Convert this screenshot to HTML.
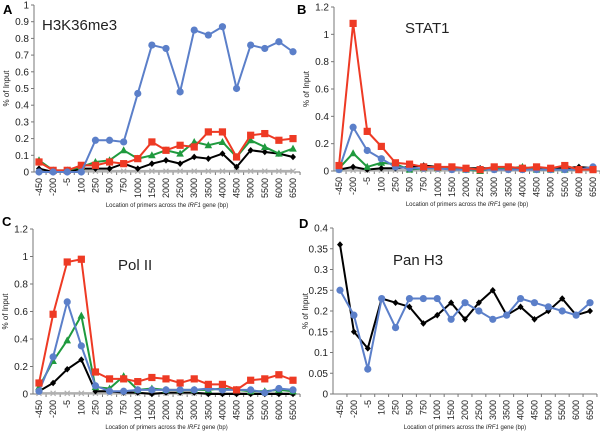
<!DOCTYPE html>
<html><head><meta charset="utf-8"><style>
html,body{margin:0;padding:0;background:#fff;}
svg{display:block;font-family:"Liberation Sans",Arial,sans-serif;}
</style></head><body>
<svg id="fig" width="600" height="434" viewBox="0 0 600 434"></svg>
<script>
const categories=["-450","-200","-5","100","250","500","750","1000","1500","2000","2500","3000","3500","4000","4500","5000","5500","6000","6500"];
const aBlue=[0,0,0,0,0.19,0.19,0.18,0.47,0.76,0.74,0.48,0.85,0.82,0.87,0.50,0.76,0.74,0.78,0.72];
const aRed=[0.06,0.01,0.01,0.04,0.04,0.06,0.05,0.08,0.18,0.13,0.16,0.15,0.24,0.24,0.09,0.22,0.23,0.19,0.20];
const aGreen=[0.07,0.01,0.01,0.03,0.06,0.07,0.13,0.08,0.10,0.13,0.11,0.18,0.16,0.18,0.09,0.19,0.15,0.11,0.14];
const aBlack=[0.02,0,0,0.02,0.02,0.02,0.05,0.02,0.05,0.07,0.05,0.09,0.08,0.11,0.03,0.13,0.12,0.11,0.09];
const aGray=[0.005,0.005,0.005,0.005,0.005,0.005,0.005,0.005,0.005,0.005,0.005,0.005,0.005,0.005,0.005,0.005,0.005,0.005,0.005];
const bRed=[0.04,1.08,0.29,0.18,0.06,0.05,0.03,0.03,0.03,0.02,0.01,0.03,0.03,0.02,0.03,0.02,0.04,0.01,0.01];
const bBlue=[0.01,0.32,0.15,0.09,0.03,0.02,0.02,0.02,0.01,0.01,0.01,0.01,0.01,0.01,0.01,0.01,0.01,0.01,0.03];
const bGreen=[0.02,0.13,0.03,0.06,0.05,0.01,0.02,0.02,0.02,0.01,0,0.02,0.02,0.03,0.01,0.01,0.01,0.01,0.02];
const bBlack=[0.01,0.03,0.01,0.02,0.02,0.03,0.04,0.03,0.02,0.02,0.02,0.02,0.02,0.02,0.02,0.02,0.02,0.03,0.02];
const bGray=[0.005,0.005,0.005,0.005,0.005,0.005,0.005,0.005,0.005,0.005,0.005,0.005,0.005,0.005,0.005,0.005,0.005,0.005,0.005];
const cRed=[0.08,0.58,0.96,0.98,0.16,0.11,0.11,0.09,0.12,0.11,0.08,0.11,0.07,0.07,0.03,0.10,0.11,0.14,0.10];
const cBlue=[0.02,0.27,0.67,0.35,0.06,0.02,0.02,0.03,0.03,0.03,0.03,0.03,0.04,0.03,0.03,0.03,0.01,0.04,0.03];
const cGreen=[0.05,0.24,0.39,0.57,0.05,0.04,0.13,0.03,0.04,0.03,0.03,0.03,0.03,0.04,0.03,0.02,0.02,0.03,0.02];
const cBlack=[0.02,0.08,0.18,0.25,0.02,0.02,0.01,0.01,0,0.01,0.01,0.01,0,0,0,0,0,0,0];
const cGray=[0.005,0.005,0.005,0.005,0.005,0.005,0.005,0.005,0.005,0.005,0.005,0.005,0.005,0.005,0.005,0.005,0.005,0.005,0.005];
const dBlack=[0.36,0.15,0.11,0.23,0.22,0.21,0.17,0.19,0.22,0.18,0.22,0.25,0.19,0.21,0.18,0.20,0.23,0.19,0.20];
const dBlue=[0.25,0.19,0.06,0.23,0.16,0.23,0.23,0.23,0.18,0.22,0.20,0.18,0.19,0.23,0.22,0.21,0.20,0.19,0.22];
const ticksA=["0","0.1","0.2","0.3","0.4","0.5","0.6","0.7","0.8","0.9","1"];
const ticksB=["0","0.2","0.4","0.6","0.8","1","1.2"];
const ticksD=["0","0.05","0.1","0.15","0.2","0.25","0.3","0.35","0.4"];

const NS="http://www.w3.org/2000/svg";
const svg=document.getElementById('fig');
function mk(tag,attrs,parent,text){const e=document.createElementNS(NS,tag);for(const k in attrs)e.setAttribute(k,attrs[k]);if(text!==undefined)e.textContent=text;(parent||svg).appendChild(e);return e;}
const COL={blue:"#5b7fc9",red:"#ee3a24",green:"#1f9a3e",black:"#000",gray:"#b0b0b0"};

function marker(g,kind,x,y){
  const c=COL[kind];let m;
  if(kind==="blue")m=mk('circle',{cx:x,cy:y,r:3.6,fill:c},g);
  else if(kind==="red")m=mk('rect',{x:x-3.6,y:y-3.6,width:7.2,height:7.2,fill:c},g);
  else if(kind==="green")m=mk('polygon',{points:`${x},${y-4} ${x-3.8},${y+3} ${x+3.8},${y+3}`,fill:c},g);
  else if(kind==="black")m=mk('polygon',{points:`${x},${y-3.3} ${x+3},${y} ${x},${y+3.3} ${x-3},${y}`,fill:c},g);
  else {m=mk('path',{d:`M${x-2.5},${y-2.5}L${x+2.5},${y+2.5}M${x-2.5},${y+2.5}L${x+2.5},${y-2.5}`,stroke:c,'stroke-width':1.2},g);}
  
  
}

function panel(p){
  const g=mk('g',{});
  
  
  const ax=p.ax,y0=p.y0,yTop=p.yTop,ymax=p.ymax;
  const yS=v=>y0-(v/ymax)*(y0-yTop);
  const step=(p.xLast-p.xFirst)/(categories.length-1);
  const xS=i=>p.xFirst+i*step;
  const right=p.xLast+step/2;
  const yl=mk('line',{x1:ax,y1:yTop,x2:ax,y2:y0,stroke:'#777','stroke-width':1},g);
  
  const xl=mk('line',{x1:ax,y1:y0,x2:right,y2:y0,stroke:'#777','stroke-width':1},g);
  
  p.ticks.forEach((t,i)=>{
    const v=parseFloat(t),y=yS(v);
    mk('line',{x1:ax-3,y1:y,x2:ax,y2:y,stroke:'#777'},g);
    const tx=mk('text',{x:ax-5,y:y+3.5,'font-size':10,'text-anchor':'end',fill:'#222'},g,t);
    
  });
  categories.forEach((c,i)=>{
    const x=xS(i);
    mk('line',{x1:x+step/2,y1:y0,x2:x+step/2,y2:y0+3,stroke:'#777'},g);
    const tx=mk('text',{x:x+3,y:y0+6,'font-size':9,'text-anchor':'end',fill:'#222',transform:`rotate(-90 ${x+3} ${y0+6})`},g,c);
    
  });
  const yt=mk('text',{x:0,y:0,'font-size':8,'text-anchor':'middle',fill:'#222',transform:`translate(${ax-25} ${(y0+yTop)/2}) rotate(-90)`},g,'% of Input');
  
  const xt=mk('text',{x:(ax+right)/2,y:y0+35,'font-size':6,'text-anchor':'middle',fill:'#222'},g);
  
  mk('tspan',{},xt,'Location of primers across the ');
  mk('tspan',{'font-style':'italic'},xt,'IRF1');
  mk('tspan',{},xt,' gene (bp)');
  const ti=mk('text',{x:p.tx,y:p.ty,'font-size':15,fill:'#222'},g,p.title);
  
  const lt=mk('text',{x:p.lx,y:p.ly,'font-size':13,'font-weight':'bold',fill:'#000'},g,p.id);
  
  p.series.forEach(([kind,vals])=>{
    const pts=vals.map((v,i)=>xS(i)+','+yS(v)).join(' ');
    const pl=mk('polyline',{points:pts,fill:'none',stroke:COL[kind],'stroke-width':kind==='gray'?2.5:2},g);
    
    vals.forEach((v,i)=>marker(g,kind,xS(i),yS(v)));
  });
}

panel({id:'A',ax:34,y0:172,yTop:5,ymax:1,xFirst:39,xLast:293,ticks:ticksA,title:'H3K36me3',tx:42,ty:30,lx:3,ly:14,
  series:[['gray',aGray],['black',aBlack],['green',aGreen],['red',aRed],['blue',aBlue]]});
panel({id:'B',ax:334,y0:171,yTop:7,ymax:1.2,xFirst:339,xLast:593,ticks:ticksB,title:'STAT1',tx:405,ty:33,lx:297,ly:14,
  series:[['gray',bGray],['black',bBlack],['green',bGreen],['blue',bBlue],['red',bRed]]});
panel({id:'C',ax:33,y0:394,yTop:229,ymax:1.2,xFirst:39,xLast:293,ticks:ticksB,title:'Pol II',tx:118,ty:270,lx:2,ly:226,
  series:[['gray',cGray],['black',cBlack],['green',cGreen],['blue',cBlue],['red',cRed]]});
panel({id:'D',ax:333,y0:394,yTop:228,ymax:0.4,xFirst:340,xLast:590,ticks:ticksD,title:'Pan H3',tx:393,ty:265,lx:299,ly:228,
  series:[['black',dBlack],['blue',dBlue]]});
</script>
</body></html>
